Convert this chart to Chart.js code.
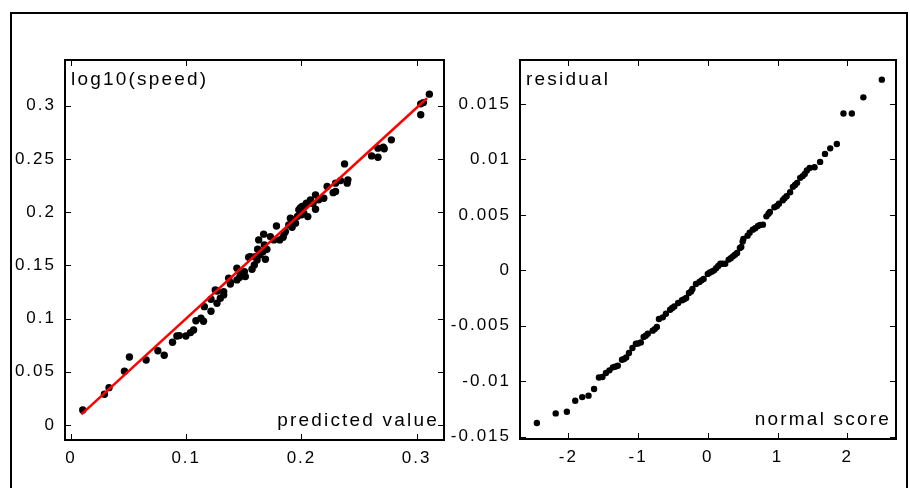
<!DOCTYPE html>
<html>
<head>
<meta charset="utf-8">
<script src="https://cdn.jsdelivr.net/npm/chart.js@4/dist/chart.umd.min.js"></script>
<style>
  body { margin: 0; background: #fff; }
  #wrap { position: relative; width: 910px; height: 488px; overflow: hidden; }
  #frame { position: absolute; left: 10px; top: 12px; width: 894px; height: 500px;
           border: 2px solid #000; border-bottom: none; }
  canvas { position: absolute; top: 0; }
</style>
</head>
<body>
<div id="wrap">
  <div id="frame"></div>
  <canvas id="fitChart" width="448" height="488" style="left:0"></canvas>
  <canvas id="qqChart" width="462" height="488" style="left:448px"></canvas>
</div>
<script>
// left panel: observed vs predicted
const predicted = [0.0102, 0.029, 0.033, 0.0464, 0.0507, 0.0652, 0.0754, 0.0809, 0.0881, 0.0919,
  0.094, 0.0997, 0.1037, 0.1064, 0.1084, 0.1128, 0.115, 0.1157, 0.1215, 0.1215,
  0.1267, 0.1267, 0.1296, 0.1325, 0.1325, 0.1252, 0.1368, 0.1383, 0.1383, 0.144,
  0.144, 0.1464, 0.1513, 0.1505, 0.1542, 0.1557, 0.1571, 0.1591, 0.1615, 0.162,
  0.1629, 0.1667, 0.1687, 0.1678, 0.1672, 0.173, 0.176, 0.1783, 0.1811, 0.1841,
  0.1861, 0.1904, 0.1919, 0.1948, 0.1977, 0.2006, 0.202, 0.2043, 0.2055, 0.2078,
  0.2122, 0.2122, 0.215, 0.2194, 0.2223, 0.2275, 0.2296, 0.2296, 0.2339, 0.2374,
  0.2397, 0.2403, 0.2609, 0.2664, 0.2664, 0.271, 0.2718, 0.278, 0.3035, 0.3035,
  0.3058, 0.311, 0.199, 0.2, 0.1965, 0.203, 0.189, 0.185, 0.21, 0.164,
  0.16, 0.147, 0.17];
const log10Speed = [0.0141, 0.0289, 0.0351, 0.0505, 0.0639, 0.0611, 0.0698, 0.0655, 0.0777, 0.0836,
  0.084, 0.0836, 0.0868, 0.0893, 0.098, 0.1003, 0.0975, 0.1112, 0.1069, 0.1181,
  0.1144, 0.1259, 0.1191, 0.1222, 0.1253, 0.1269, 0.1379, 0.1325, 0.134, 0.1473,
  0.1363, 0.1388, 0.1394, 0.1441, 0.1576, 0.1582, 0.1463, 0.1504, 0.1551, 0.1651,
  0.1739, 0.1629, 0.1557, 0.1692, 0.1793, 0.177, 0.1739, 0.187, 0.1739, 0.1764,
  0.1817, 0.1942, 0.1858, 0.1895, 0.2021, 0.2052, 0.199, 0.2084, 0.1958, 0.2115,
  0.2162, 0.2027, 0.2115, 0.213, 0.224, 0.2183, 0.2272, 0.2193, 0.2296, 0.2453,
  0.2272, 0.2303, 0.2528, 0.2516, 0.2601, 0.261, 0.2595, 0.2679, 0.2914, 0.3017,
  0.3029, 0.3108, 0.204, 0.1975, 0.196, 0.206, 0.188, 0.18, 0.208, 0.16,
  0.158, 0.142, 0.165];
const fitX = [0.009, 0.309];
const fitY = [0.010, 0.307];
const predTicks = [0, 0.1, 0.2, 0.3];
const speedTicks = [0, 0.05, 0.1, 0.15, 0.2, 0.25, 0.3];

// right panel: normal probability plot of residuals
const normalScore = [-2.45, -2.18, -2.02, -1.9, -1.8, -1.71, -1.63, -1.56, -1.51, -1.46,
  -1.41, -1.36, -1.33, -1.29, -1.23, -1.2, -1.17, -1.13, -1.08, -1.03,
  -1.0, -0.96, -0.92, -0.89, -0.86, -0.79, -0.76, -0.73, -0.7, -0.645,
  -0.6, -0.54, -0.51, -0.48, -0.425, -0.37, -0.34, -0.31, -0.27, -0.24,
  -0.22, -0.17, -0.12, -0.09, -0.06, 0.0, 0.03, 0.06, 0.09, 0.12,
  0.15, 0.18, 0.21, 0.25, 0.3, 0.33, 0.36, 0.39, 0.42, 0.46,
  0.48, 0.5, 0.51, 0.57, 0.6, 0.645, 0.68, 0.72, 0.75, 0.79,
  0.84, 0.87, 0.89, 0.955, 0.99, 1.02, 1.075, 1.1, 1.13, 1.18,
  1.22, 1.25, 1.28, 1.325, 1.36, 1.39, 1.42, 1.46, 1.53, 1.61,
  1.68, 1.755, 1.85, 1.945, 2.065, 2.23, 2.495];
const residual = [-0.01377, -0.0129, -0.01275, -0.01176, -0.01143, -0.0113, -0.0107, -0.00966, -0.00962, -0.00926,
  -0.00902, -0.00875, -0.0087, -0.0086, -0.00806, -0.008, -0.00785, -0.00746, -0.007, -0.00662,
  -0.0066, -0.0065, -0.006, -0.0059, -0.00571, -0.00544, -0.0053, -0.0051, -0.00439, -0.00424,
  -0.00391, -0.00355, -0.0034, -0.00325, -0.00294, -0.0027, -0.0026, -0.0025, -0.00204, -0.0019,
  -0.00168, -0.00123, -0.00105, -0.0009, -0.00078, -0.00032, -0.0002, -0.0001, 0.0, 0.0002,
  0.0004, 0.0006, 0.0006, 0.0006, 0.00097, 0.0011, 0.00126, 0.0014, 0.00157, 0.00202,
  0.0021, 0.0026, 0.00283, 0.00313, 0.0034, 0.00367, 0.0038, 0.004, 0.0041, 0.00412,
  0.00487, 0.0051, 0.00527, 0.00569, 0.0058, 0.006, 0.00632, 0.0065, 0.00668, 0.00704,
  0.00753, 0.0077, 0.00789, 0.00834, 0.0085, 0.0087, 0.009, 0.00924, 0.0093, 0.00978,
  0.0105, 0.011, 0.0114, 0.01414, 0.01414, 0.0156, 0.0172];
const scoreTicks = [-2, -1, 0, 1, 2];
const residTicks = [-0.015, -0.01, -0.005, 0, 0.005, 0.01, 0.015];

const FONT = '"Liberation Sans", Arial, sans-serif';

// letter spacing like the original output, plus boxed frame with inward ticks and corner labels
const spacing = {
  id: 'spacing',
  beforeUpdate(chart) { chart.ctx.letterSpacing = '2px'; },
  beforeDraw(chart) { chart.ctx.letterSpacing = '2px'; }
};
const frameAndLabels = {
  id: 'frameAndLabels',
  afterDraw(chart, args, opts) {
    const ctx = chart.ctx;
    const { left, right, top, bottom } = chart.chartArea;
    const xs = chart.scales.x, ys = chart.scales.y;
    ctx.save();
    ctx.strokeStyle = '#000';
    ctx.lineWidth = 1;
    ctx.beginPath();
    xs.ticks.forEach(t => {
      const p = Math.round(xs.getPixelForValue(t.value)) + 0.5;
      ctx.moveTo(p, bottom); ctx.lineTo(p, bottom - 6);
      ctx.moveTo(p, top); ctx.lineTo(p, top + 6);
    });
    ys.ticks.forEach(t => {
      const p = Math.round(ys.getPixelForValue(t.value)) + 0.5;
      ctx.moveTo(left, p); ctx.lineTo(left + 6, p);
      ctx.moveTo(right, p); ctx.lineTo(right - 6, p);
    });
    ctx.stroke();
    ctx.lineWidth = 2;
    ctx.strokeRect(left, top, right - left, bottom - top);

    ctx.letterSpacing = '2.2px';
    ctx.fillStyle = '#000';
    ctx.font = '19px ' + FONT;
    ctx.textBaseline = 'alphabetic';
    ctx.textAlign = 'left';
    ctx.fillText(opts.yLabel, left + 6, top + 25);
    ctx.textAlign = 'right';
    ctx.fillText(opts.xLabel, right - 5, bottom - 14);
    ctx.restore();
  }
};

function axis(min, max, tickList, size, isX) {
  return {
    type: 'linear',
    min: min,
    max: max,
    afterBuildTicks: s => { s.ticks = tickList.map(v => ({ value: v })); },
    afterFit: s => { if (isX) s.height = size; else s.width = size; },
    grid: { display: false, drawTicks: false },
    border: { display: false },
    ticks: {
      autoSkip: false,
      maxRotation: 0,
      padding: isX ? 8 : 9,
      color: '#000',
      font: { family: FONT, size: 17 },
      callback: v => String(v)
    }
  };
}

const common = {
  responsive: false,
  animation: false,
  events: [],
  plugins: { legend: { display: false }, tooltip: { enabled: false } }
};

new Chart(document.getElementById('fitChart').getContext('2d'), {
  type: 'scatter',
  data: {
    datasets: [{
      type: 'line',
      data: fitX.map((v, i) => ({ x: v, y: fitY[i] })),
      borderColor: '#ff0000',
      borderWidth: 2.5,
      pointRadius: 0,
      fill: false,
      order: 0
    }, {
      data: predicted.map((v, i) => ({ x: v, y: log10Speed[i] })),
      backgroundColor: '#000',
      borderWidth: 0,
      pointRadius: 3.7,
      order: 1
    }]
  },
  options: Object.assign({}, common, {
    layout: { padding: { top: 60, right: 4, bottom: 0, left: 0 } },
    scales: {
      x: axis(-0.0052, 0.3237, predTicks, 48, true),
      y: axis(-0.0141, 0.3429, speedTicks, 65, false)
    },
    plugins: Object.assign({}, common.plugins, {
      frameAndLabels: { yLabel: 'log10(speed)', xLabel: 'predicted value' }
    })
  }),
  plugins: [spacing, frameAndLabels]
});

new Chart(document.getElementById('qqChart').getContext('2d'), {
  type: 'scatter',
  data: {
    datasets: [{
      data: normalScore.map((v, i) => ({ x: v, y: residual[i] })),
      backgroundColor: '#000',
      borderWidth: 0,
      pointRadius: 3.2
    }]
  },
  options: Object.assign({}, common, {
    layout: { padding: { top: 60, right: 14, bottom: 0, left: 0 } },
    scales: {
      x: axis(-2.692, 2.698, scoreTicks, 49, true),
      y: axis(-0.01521, 0.01897, residTicks, 72, false)
    },
    plugins: Object.assign({}, common.plugins, {
      frameAndLabels: { yLabel: 'residual', xLabel: 'normal score' }
    })
  }),
  plugins: [spacing, frameAndLabels]
});
</script>
</body>
</html>
